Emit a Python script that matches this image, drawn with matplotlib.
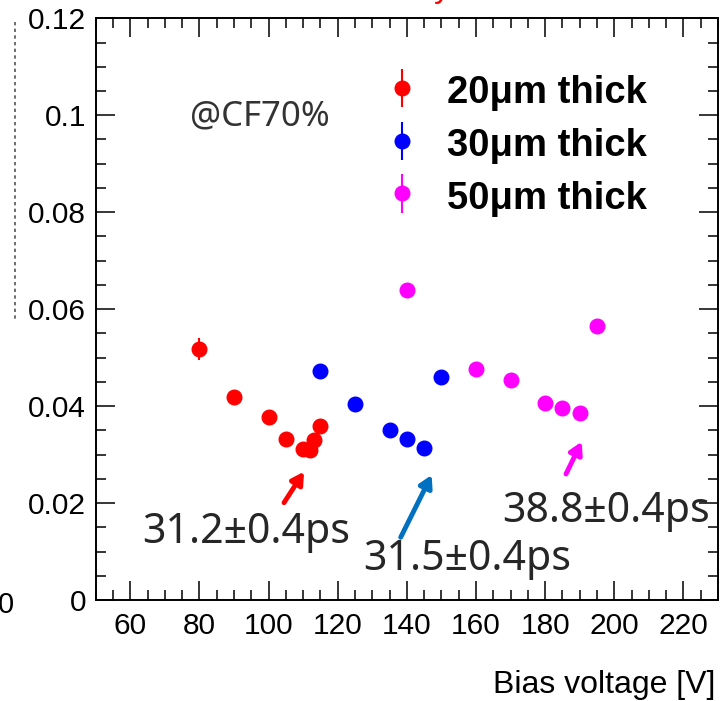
import numpy as np
import matplotlib
matplotlib.use('Agg')
import matplotlib.pyplot as plt
from matplotlib.ticker import MultipleLocator, FuncFormatter
from matplotlib.lines import Line2D

# data (bias voltage [V], time resolution [ns])
v_20 = [80, 90, 100, 105, 110, 112, 113, 115]
t_20 = [0.0518, 0.0419, 0.0377, 0.0333, 0.0312, 0.0310, 0.0331, 0.0358]
e_20 = [0.0022, 0.0010, 0.0010, 0.0010, 0.0010, 0.0010, 0.0010, 0.0010]

v_30 = [115, 125, 135, 140, 145, 150]
t_30 = [0.0473, 0.0405, 0.0351, 0.0332, 0.0313, 0.0460]
e_30 = [0.0010, 0.0010, 0.0010, 0.0010, 0.0010, 0.0010]

v_50 = [140, 160, 170, 180, 185, 190, 195]
t_50 = [0.0639, 0.0476, 0.0454, 0.0406, 0.0396, 0.0386, 0.0565]
e_50 = [0.0012, 0.0010, 0.0010, 0.0010, 0.0010, 0.0010, 0.0010]

labels = ["20\u03bcm thick", "30\u03bcm thick", "50\u03bcm thick"]
colors = ["#ff0000", "#0000ff", "#ff00ff"]

W, H = 720, 701
def fx(px): return px / W
def fy(py): return 1 - py / H

root_font = "Liberation Sans"
note_font = ["Noto Sans", "DejaVu Sans"]

fig = plt.figure(figsize=(7.2, 7.01), dpi=100)
ax = fig.add_axes([fx(95.7), fy(600), fx(718) - fx(95.7), fy(18.3) - fy(600)])

handles = []
for v, t, e, c in zip([v_20, v_30, v_50], [t_20, t_30, t_50], [e_20, e_30, e_50], colors):
    h = ax.errorbar(v, t, yerr=e, fmt='o', color=c, markersize=10.5, elinewidth=1.5,
                    capsize=0, markeredgecolor=c)
    handles.append(h)

ax.set_xlim(50, 230)
ax.set_ylim(0, 0.12)
ax.xaxis.set_major_locator(MultipleLocator(20))
ax.xaxis.set_minor_locator(MultipleLocator(5))
ax.yaxis.set_major_locator(MultipleLocator(0.02))
ax.yaxis.set_minor_locator(MultipleLocator(0.005))
ax.yaxis.set_major_formatter(FuncFormatter(lambda v, p: f"{v:g}"))
ax.set_xticks(np.arange(60, 221, 20))

ax.tick_params(which='both', direction='in', top=True, right=True, width=1.1)
ax.tick_params(which='major', length=13.5, labelsize=21.5, pad=7)
ax.tick_params(which='minor', length=7)
ax.tick_params(axis='x', which='major', pad=9)
for lab in ax.get_xticklabels() + ax.get_yticklabels():
    lab.set_fontfamily(root_font)
for s in ax.spines.values():
    s.set_linewidth(1.4)

leg = ax.legend(handles, labels, loc='upper left', bbox_to_anchor=(0.4697, 0.906),
                frameon=False, borderpad=0, borderaxespad=0, handlelength=0.75,
                handleheight=1.0, handletextpad=0.8, labelspacing=0.38,
                prop={'family': root_font, 'weight': 'bold', 'size': 27.5})

fig.text(fx(715), fy(693), "Bias voltage [V]", ha='right', va='baseline',
         fontsize=23, family=root_font)

# overlay notes
fig.text(fx(190), fy(125), "@CF70%", ha='left', va='baseline',
         fontsize=25, family=note_font, color='#333333')
notes = [("31.2\u00b10.4ps", 141.7, 543.3), ("31.5\u00b10.4ps", 363, 570),
         ("38.8\u00b10.4ps", 501.7, 521.7)]
for s, px, py in notes:
    fig.text(fx(px), fy(py), s, ha='left', va='baseline', fontsize=29.5,
             family=note_font, color='#262626')

arrows = [((284, 502.7), (304, 471.7), "#ff0000"),
          ((400.7, 537.3), (431.7, 475), "#0070c0"),
          ((566, 474), (581.7, 441.7), "#ff00ff")]
for (x0, y0), (x1, y1), c in arrows:
    ax.annotate("", xy=(fx(x1), fy(y1)), xytext=(fx(x0), fy(y0)),
                xycoords='figure fraction', textcoords='figure fraction',
                arrowprops=dict(arrowstyle='-|>,head_length=0.7,head_width=0.4',
                                color=c, lw=3.5, shrinkA=0, shrinkB=0))

# cropped leftovers at the edges of the reference
fig.add_artist(Line2D([fx(15), fx(15)], [fy(22), fy(320)], ls=(0, (2, 2)), lw=1.2,
                      color='#555555'))
fig.text(fx(14), fy(605), "0", ha='right', va='center', fontsize=21, family=root_font)
fig.text(fx(442), fy(-3), "y", ha='center', va='baseline', fontsize=24,
         family=root_font, color='#ff0000')

plt.savefig("out.png", dpi=100)
